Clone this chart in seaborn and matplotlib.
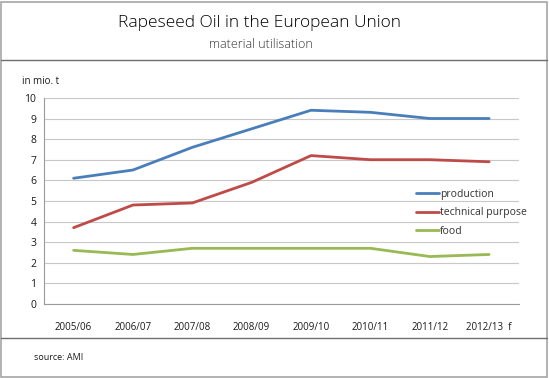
import numpy as np
import pandas as pd
import matplotlib
matplotlib.use("Agg")
import matplotlib.pyplot as plt
from matplotlib.lines import Line2D
from matplotlib.patches import Rectangle
import seaborn as sns

# data (mio. t)
seasons = ["2005/06", "2006/07", "2007/08", "2008/09",
           "2009/10", "2010/11", "2011/12", "2012/13  f"]
production = [6.1, 6.5, 7.6, 8.5, 9.4, 9.3, 9.0, 9.0]
technical_purpose = [3.7, 4.8, 4.9, 5.9, 7.2, 7.0, 7.0, 6.9]
food = [2.6, 2.4, 2.7, 2.7, 2.7, 2.7, 2.3, 2.4]

series_names = ["production", "technical purpose", "food"]
colors = ["#4a7ebb", "#be4b48", "#98b954"]

df = pd.DataFrame({
    "season": seasons * 3,
    "value": production + technical_purpose + food,
    "series": np.repeat(series_names, len(seasons)),
})

sns.set_style("white")
plt.rcParams["font.family"] = ["Open Sans", "DejaVu Sans"]

fig = plt.figure(figsize=(5.49, 3.78), dpi=100)
ax = fig.add_axes([0.080, 0.196, 0.865, 0.545])

sns.lineplot(data=df, x="season", y="value", hue="series",
             palette=colors, hue_order=series_names, linewidth=2.0,
             sort=False, ax=ax)

ax.set_xlim(-0.5, len(seasons) - 0.5)
ax.set_ylim(0, 10)
ax.set_yticks(range(0, 11))
ax.yaxis.grid(True, color="#c8c8c8", linewidth=0.8)
ax.set_axisbelow(True)
for s in ["top", "right"]:
    ax.spines[s].set_visible(False)
for s in ["left", "bottom"]:
    ax.spines[s].set_color("#9a9a9a")
    ax.spines[s].set_linewidth(0.8)

ax.set_xticks(range(len(seasons)))
ax.set_xticklabels(seasons)
ax.set_xticks(np.arange(-0.5, len(seasons)), minor=True)
ax.tick_params(axis="x", which="major", length=0, pad=13, labelsize=7)
ax.tick_params(axis="x", which="minor", length=3.5, color="#9a9a9a", width=0.8, direction="out")
ax.tick_params(axis="y", length=3.5, color="#9a9a9a", width=0.8, labelsize=7.5, pad=2)
ax.tick_params(axis="both", labelcolor="#1a1a1a")
ax.set_xlabel("")
ax.set_ylabel("")

leg = ax.legend(loc="upper left", bbox_to_anchor=(0.775, 0.578), frameon=False,
                fontsize=7.5, handlelength=2.2, handletextpad=0.1,
                labelspacing=0.7, borderaxespad=0)
for t in leg.get_texts():
    t.set_color("#333333")

# frame, header and footer
fig.add_artist(Rectangle((0.002, 0.003), 0.994, 0.993, transform=fig.transFigure,
                         fill=False, edgecolor="#a6a6a6", linewidth=1.2))
fig.add_artist(Line2D([0.002, 0.996], [1 - 60 / 378] * 2, transform=fig.transFigure,
                      color="#6e6e6e", linewidth=1.0))
fig.add_artist(Line2D([0.002, 0.996], [1 - 338 / 378] * 2, transform=fig.transFigure,
                      color="#6e6e6e", linewidth=1.0))

fig.text(260 / 549, 1 - 23 / 378, "Rapeseed Oil in the European Union", ha="center",
         va="center", fontsize=12.5, color="#000000", fontweight="light")
fig.text(261 / 549, 1 - 45 / 378, "material utilisation", ha="center", va="center",
         fontsize=9, color="#333333", fontweight="light")
fig.text(22 / 549, 1 - 82 / 378, "in mio. t", ha="left", va="center",
         fontsize=7, color="#1a1a1a")
fig.text(34 / 549, 1 - 358 / 378, "source: AMI", ha="left", va="center",
         fontsize=6.5, color="#1a1a1a")

fig.savefig("out.png", dpi=100)
